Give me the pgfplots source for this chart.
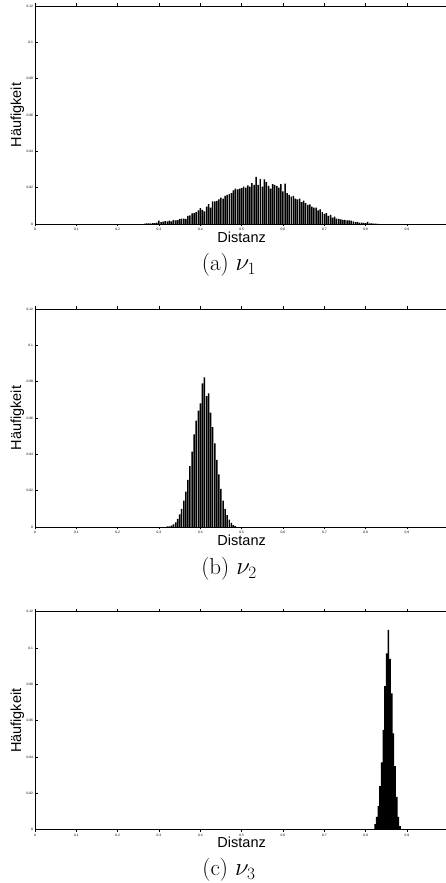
\documentclass[border=0pt]{standalone}
\usepackage{fontspec}
\usepackage{pgfplots}
\pgfplotsset{compat=1.18}
\newfontfamily\helv{Liberation Sans}

\pgfplotsset{
  histstyle/.style={
    scale only axis,
    width=413.3pt, height=218pt,
    xmin=0, xmax=1, ymin=0, ymax=0.12,
    xtick={0,0.1,0.2,0.3,0.4,0.5,0.6,0.7,0.8,0.9,1},
    xticklabels={0,0.1,0.2,0.3,0.4,0.5,0.6,0.7,0.8,0.9,{}},
    ytick={0,0.02,0.04,0.06,0.08,0.1,0.12},
    yticklabels={0,0.02,0.04,0.06,0.08,0.1,0.12},
    tick align=inside,
    major tick length=2.5pt,
    tick style={line width=0.5pt,black},
    axis line style={line width=0.7pt},
    tick label style={font=\helv\fontsize{3.3}{3.8}\selectfont},
    xticklabel style={yshift=1.5pt},
    yticklabel style={xshift=1.5pt},
    xlabel={Distanz},
    ylabel={Häufigkeit},
    xlabel style={at={(axis description cs:0.5,0)}, anchor=center, yshift=-13pt, font=\helv\fontsize{14.5}{16}\selectfont},
    ylabel style={at={(axis description cs:0,0.5)}, anchor=center, rotate=0, yshift=17.5pt, font=\helv\fontsize{14.5}{16}\selectfont},
    ybar, bar width=0.0036,
    anchor=origin,
  }
}

\begin{document}
\begin{tikzpicture}
\useasboundingbox (0,0) rectangle (446pt,883pt);

% ---------- (a) nu_1 ----------
\begin{axis}[histstyle, at={(35pt,659pt)}]
\addplot[fill=black, draw=none] coordinates {
(0.265,0.0002)(0.270,0.0003)(0.275,0.0003)(0.280,0.0004)(0.285,0.0005)
(0.290,0.0005)(0.295,0.0008)(0.300,0.0018)(0.305,0.0010)(0.310,0.0013)
(0.315,0.0016)(0.320,0.0014)(0.325,0.0018)(0.330,0.0015)(0.335,0.0022)
(0.340,0.0020)(0.345,0.0021)(0.350,0.0027)(0.355,0.0029)(0.360,0.0030)
(0.365,0.0028)(0.370,0.0045)(0.375,0.0047)(0.380,0.0058)(0.385,0.0060)
(0.390,0.0065)(0.395,0.0075)(0.400,0.0088)(0.405,0.0078)(0.410,0.0070)
(0.415,0.0095)(0.420,0.0110)(0.425,0.0090)(0.430,0.0125)(0.435,0.0125)
(0.440,0.0127)(0.445,0.0135)(0.450,0.0145)(0.455,0.0140)(0.460,0.0155)
(0.465,0.0160)(0.470,0.0165)(0.475,0.0170)(0.480,0.0185)(0.485,0.0195)
(0.490,0.0190)(0.495,0.0195)(0.500,0.0198)(0.505,0.0205)(0.510,0.0200)
(0.515,0.0212)(0.520,0.0205)(0.525,0.0225)(0.530,0.0215)(0.535,0.0260)
(0.540,0.0215)(0.545,0.0248)(0.550,0.0205)(0.555,0.0245)(0.560,0.0230)
(0.565,0.0210)(0.570,0.0195)(0.575,0.0220)(0.580,0.0215)(0.585,0.0210)
(0.590,0.0200)(0.595,0.0220)(0.600,0.0180)(0.605,0.0222)(0.610,0.0170)
(0.615,0.0160)(0.620,0.0150)(0.625,0.0155)(0.630,0.0140)(0.635,0.0135)
(0.640,0.0140)(0.645,0.0120)(0.650,0.0128)(0.655,0.0115)(0.660,0.0105)
(0.665,0.0108)(0.670,0.0095)(0.675,0.0090)(0.680,0.0090)(0.685,0.0075)
(0.690,0.0080)(0.695,0.0065)(0.700,0.0055)(0.705,0.0060)(0.710,0.0045)
(0.715,0.0050)(0.720,0.0035)(0.725,0.0040)(0.730,0.0030)(0.735,0.0028)
(0.740,0.0025)(0.745,0.0022)(0.750,0.0022)(0.755,0.0020)(0.760,0.0020)
(0.765,0.0018)(0.770,0.0015)(0.775,0.0012)(0.780,0.0010)(0.785,0.0008)
(0.790,0.0008)(0.795,0.0006)(0.800,0.0005)(0.805,0.0012)(0.810,0.0004)
(0.815,0.0003)(0.820,0.0002)(0.825,0.0002)(0.830,0.0001)
};
\end{axis}
\node[font=\fontsize{23}{27}\selectfont] at (229pt,618pt) {(a) $\nu_1$};

% ---------- (b) nu_2 ----------
\begin{axis}[histstyle, at={(35pt,356pt)}]
\addplot[fill=black, draw=none] coordinates {
(0.320,0.0003)(0.325,0.0004)(0.330,0.0008)(0.335,0.0015)(0.340,0.0025)
(0.345,0.0045)(0.350,0.0070)(0.355,0.0100)(0.360,0.0145)(0.365,0.0195)
(0.370,0.0260)(0.375,0.0335)(0.380,0.0415)(0.385,0.0510)(0.390,0.0585)
(0.395,0.0640)(0.400,0.0680)(0.405,0.0790)(0.410,0.0823)(0.415,0.0720)
(0.420,0.0735)(0.425,0.0630)(0.430,0.0550)(0.435,0.0460)(0.440,0.0370)
(0.445,0.0290)(0.450,0.0210)(0.455,0.0145)(0.460,0.0100)(0.465,0.0065)
(0.470,0.0040)(0.475,0.0022)(0.480,0.0010)(0.485,0.0005)
};
\end{axis}
\node[font=\fontsize{23}{27}\selectfont] at (229pt,314pt) {(b) $\nu_2$};

% ---------- (c) nu_3 ----------
\begin{axis}[histstyle, at={(35pt,53.3pt)}, bar width=0.0042]
\addplot[fill=black, draw=none] coordinates {
(0.823,0.0030)(0.827,0.0070)(0.831,0.0130)(0.835,0.0240)(0.839,0.0370)
(0.843,0.0550)(0.847,0.0790)(0.851,0.0970)(0.855,0.1100)(0.859,0.0940)
(0.863,0.0750)(0.867,0.0530)(0.871,0.0350)(0.875,0.0180)(0.879,0.0070)
(0.883,0.0020)
};
\end{axis}
\node[font=\fontsize{23}{27}\selectfont] at (229pt,13pt) {(c) $\nu_3$};
\end{tikzpicture}
\end{document}
